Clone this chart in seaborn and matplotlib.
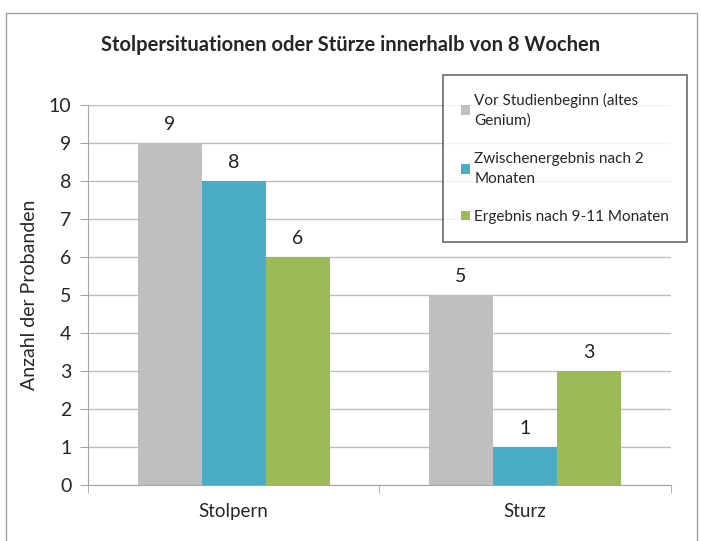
import seaborn as sns
import matplotlib.pyplot as plt
import pandas as pd
from matplotlib.patches import Rectangle

## data
categories = ["Stolpern", "Sturz"]
series = ["Vor Studienbeginn (altes\nGenium)",
          "Zwischenergebnis nach 2\nMonaten",
          "Ergebnis nach 9-11 Monaten"]
vor = [9, 5]
zwischen = [8, 1]
ergebnis = [6, 3]
colors = ["#BFBFBF", "#4BACC6", "#9BBB59"]

rows = []
for s, vals in zip(series, [vor, zwischen, ergebnis]):
    for c, v in zip(categories, vals):
        rows.append({"Kategorie": c, "Serie": s, "Wert": v})
df = pd.DataFrame(rows)

sns.set_style("white")
plt.rcParams['font.family'] = ['Lato', 'DejaVu Sans']

fig = plt.figure(figsize=(7.01, 5.41), dpi=100)
ax = fig.add_axes([0.1255, 0.1035, 0.8315, 0.7025])

sns.barplot(data=df, x="Kategorie", y="Wert", hue="Serie", palette=colors,
            width=0.66, saturation=1, linewidth=0, ax=ax, zorder=2)

for cont in ax.containers:
    ax.bar_label(cont, padding=7, fontsize=14, color="#222222")

ax.set_ylim(0, 10)
ax.set_yticks(range(0, 11))
ax.set_xlim(-0.5, 1.5)
ax.yaxis.grid(True, color="#BDBDBD", linewidth=1, zorder=0)
ax.set_axisbelow(True)
for side in ["top", "right"]:
    ax.spines[side].set_visible(False)
ax.spines["left"].set_color("#A6A6A6")
ax.spines["bottom"].set_color("#A6A6A6")
ax.tick_params(axis="y", which="both", left=True, length=6, color="#A6A6A6",
               labelsize=14, pad=6)
ax.set_xticks([0, 1])
ax.set_xticklabels(categories, fontsize=13.5)
ax.set_xticks([-0.5, 0.5, 1.5], minor=True)
ax.tick_params(axis="x", which="major", length=0, pad=13)
ax.tick_params(axis="x", which="minor", bottom=True, length=6, color="#A6A6A6")
ax.set_xlabel("")
ax.set_ylabel("Anzahl der Probanden", fontsize=14, labelpad=8)

fig.suptitle("Stolpersituationen oder Stürze innerhalb von 8 Wochen",
             x=0.5, y=0.935, fontsize=14.5, fontweight="bold")

leg = ax.legend(loc="upper left", bbox_to_anchor=(0.609, 1.079), fontsize=11,
                frameon=True, fancybox=False, edgecolor="#444444",
                handlelength=0.6, handleheight=0.6, handletextpad=0.3,
                labelspacing=1.6, borderpad=1.15, borderaxespad=0)
for t in leg.get_texts():
    t.set_linespacing(1.5)
leg.get_frame().set_linewidth(1.2)
leg.set_zorder(5)

fig.patches.append(Rectangle((0.009, -0.01), 0.986, 0.986, transform=fig.transFigure,
                             fill=False, edgecolor="#A0A0A0", linewidth=1))

fig.savefig("out.png", dpi=100)
